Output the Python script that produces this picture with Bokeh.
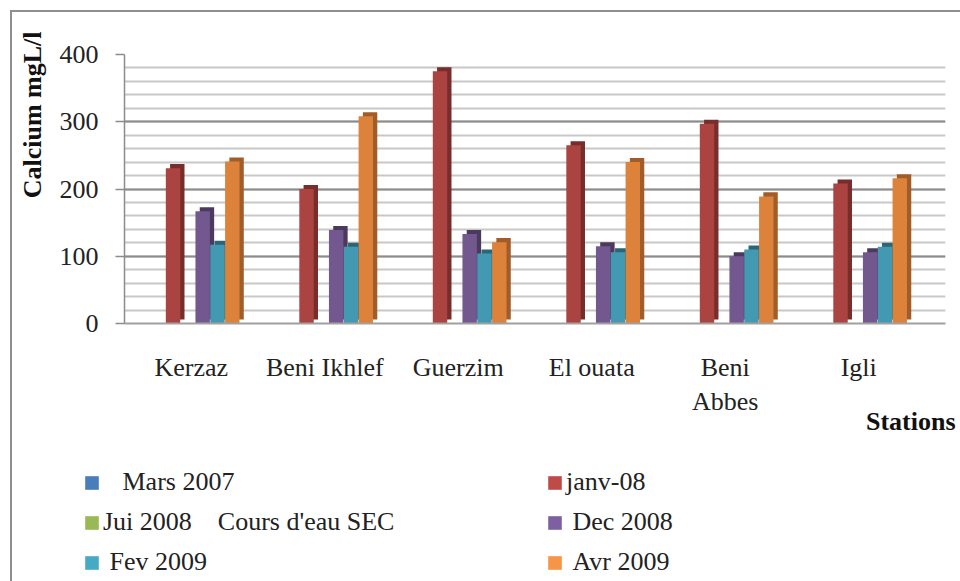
from bokeh.plotting import figure
from bokeh.layouts import column
from bokeh.models import (Range1d, FixedTicker, SingleIntervalTicker, Legend,
                          LegendItem, ColumnDataSource, Title, InlineStyleSheet)
from bokeh.embed import file_html
from bokeh.resources import INLINE

stations = ["Kerzaz", "Beni Ikhlef", "Guerzim", "El ouata", "Beni\nAbbes", "Igli"]
series_names = ["\u00a0\u00a0\u00a0Mars 2007", "janv-08", "Jui 2008 \u00a0\u00a0\u00a0Cours d'eau SEC",
                "\u00a0Dec 2008", "\u00a0Fev 2009", "\u00a0Avr 2009"]
mars_2007 = [None, None, None, None, None, None]
janv_08 = [231, 200, 375, 265, 297, 208]
jui_2008 = [None, None, None, None, None, None]
dec_2008 = [167, 139, 133, 115, 100, 106]
fev_2009 = [117, 114, 104, 106, 110, 114]
avr_2009 = [241, 308, 121, 240, 189, 216]
series_values = [mars_2007, janv_08, jui_2008, dec_2008, fev_2009, avr_2009]
y_label = "Calcium mgL/l"
x_label = "Stations"

front_colors = ["#4A7EBB", "#AB4441", "#98B954", "#73588F", "#4499B2", "#DD823A"]
side_colors = ["#30527A", "#762D2B", "#637836", "#4B3A5E", "#2C6575", "#A15D29"]
legend_colors = ["#4A7EBB", "#BE4B48", "#98B954", "#7D60A0", "#46AAC5", "#F69546"]

FONT = "Liberation Serif"
W = 960

p = figure(width=W, height=450, x_range=Range1d(0, 6.15), y_range=Range1d(0, 400),
           title=None,
           min_border_left=124, min_border_right=15, min_border_top=54, min_border_bottom=127,
           output_backend="svg", toolbar_location=None)
p.outline_line_color = None
p.background_fill_color = "white"
p.border_fill_color = None
p.stylesheets = [InlineStyleSheet(css=":host { background: white; box-shadow: inset 10px 10px 0 0 white, inset 12px 12px 0 0 #8F8F8F; }")]

# grid
yt = SingleIntervalTicker(interval=100, num_minor_ticks=5)
p.ygrid.ticker = yt
p.ygrid.grid_line_color = "#8C8C8C"
p.ygrid.grid_line_width = 2
p.ygrid.minor_grid_line_color = "#C8C8C8"
p.ygrid.minor_grid_line_width = 2
p.xgrid.grid_line_color = None

# y axis
p.yaxis.ticker = yt
p.yaxis.major_tick_out = 9
p.yaxis.major_tick_in = 0
p.yaxis.minor_tick_out = 0
p.yaxis.minor_tick_in = 0
p.yaxis.axis_line_color = "#8C8C8C"
p.yaxis.axis_line_width = 1.5
p.yaxis.major_tick_line_color = "#8C8C8C"
p.yaxis.major_tick_line_width = 1.5
p.yaxis.major_label_text_font = FONT
p.yaxis.major_label_text_font_size = "26px"
p.yaxis.major_label_text_color = "#222222"
p.yaxis.major_label_standoff = 17

# x axis
centers = [i + 0.5 for i in range(len(stations))]
p.xaxis.ticker = FixedTicker(ticks=centers)
p.xaxis.major_label_overrides = {c: s for c, s in zip(centers, stations)}
p.xaxis.major_tick_out = 0
p.xaxis.major_tick_in = 0
p.xaxis.minor_tick_out = 0
p.xaxis.minor_tick_in = 0
p.xaxis.axis_line_color = "#A0A0A0"
p.xaxis.axis_line_width = 2
p.xaxis.major_label_text_font = FONT
p.xaxis.major_label_text_font_size = "26px"
p.xaxis.major_label_text_color = "#222222"
p.xaxis.major_label_standoff = 29

# bars
slot = 0.111
bar_w = 0.108
for k, (name, vals) in enumerate(zip(series_names, series_values)):
    xs = [c + (k - 2.5) * slot + 0.03 for c in centers]
    tops = [float("nan") if v is None else v for v in vals]
    src = ColumnDataSource(dict(x=xs, top=tops,
                                xs=[x + 0.032 for x in xs],
                                ts=[t + 6 for t in tops]))
    p.vbar(x="xs", top="ts", bottom=6, width=bar_w, source=src,
           fill_color=side_colors[k], line_color=None)
    p.vbar(x="x", top="top", bottom=0, width=bar_w, source=src,
           fill_color=front_colors[k], line_color=None)

# axis titles
p.add_layout(Title(text=y_label, align="right", offset=-23, standoff=19,
                   text_font=FONT, text_font_size="26px", text_font_style="bold",
                   text_color="#111111"), "left")
p.add_layout(Title(text=x_label, align="right", offset=-10, standoff=-32,
                   text_font=FONT, text_font_size="26px", text_font_style="bold",
                   text_color="#111111"), "below")

# legend figure
p2 = figure(width=W, height=131, x_range=Range1d(0, 1), y_range=Range1d(0, 1),
            title=None, x_axis_location=None, y_axis_location=None,
            min_border_left=0, min_border_right=0, min_border_top=0, min_border_bottom=0,
            output_backend="svg", toolbar_location=None)
p2.outline_line_color = None
p2.background_fill_color = None
p2.border_fill_color = None
p2.grid.grid_line_color = None
p2.stylesheets = [InlineStyleSheet(css=":host { background: white; box-shadow: inset 10px 0 0 0 white, inset 12px 0 0 0 #8F8F8F; }")]
aligned = True
try:
    p.frame_align = False
    p2.frame_align = False
    aligned = False
except Exception:
    pass

items_by_series = []
for k, (name, vals) in enumerate(zip(series_names, series_values)):
    src2 = ColumnDataSource(dict(x=centers, top=[float("nan")] * len(vals)))
    r = p2.vbar(x="x", top="top", bottom=0, width=0.1, source=src2,
                fill_color=legend_colors[k], line_color=None)
    items_by_series.append(LegendItem(label=name, renderers=[r]))

# two columns, filled row by row as in the original
legend_items = items_by_series[0::2] + items_by_series[1::2]

legend = Legend(items=legend_items, ncols=2, location=(83 - (124 if aligned else 0), 4),
                glyph_width=17, glyph_height=17, label_standoff=3, label_width=433,
                label_height=26, spacing=10, padding=0, margin=0,
                border_line_color=None, background_fill_alpha=0,
                label_text_font=FONT, label_text_font_size="26px",
                label_text_color="#222222")
p2.add_layout(legend)

layout = column(p, p2, spacing=0)
open("out.html", "w").write(file_html(layout, INLINE))
